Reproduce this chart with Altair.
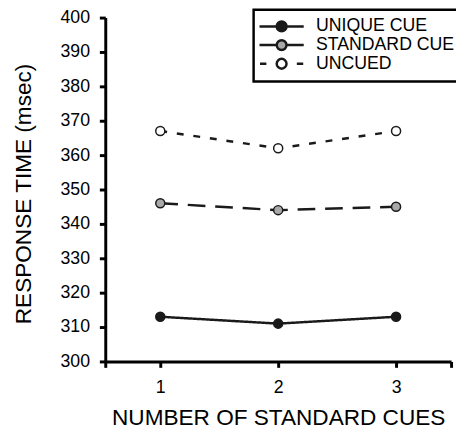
import altair as alt
import pandas as pd

# ---- data ----
cues = [1, 2, 3]
series = ["UNIQUE CUE", "STANDARD CUE", "UNCUED"]
unique_cue = [313, 311, 313]
standard_cue = [346, 344, 345]
uncued = [367, 362, 367]
y_ticks = [300, 310, 320, 330, 340, 350, 360, 370, 380, 390, 400]
x_ticks = [1, 2, 3]

rows = []
for name, vals in zip(series, [unique_cue, standard_cue, uncued]):
    for c, v in zip(cues, vals):
        rows.append({"cues": c, "rt": v, "series": name, "style": name})
df = pd.DataFrame(rows)

INK = "#1a1a1a"
fills = [INK, "#a9a9a9", "#ffffff"]
# order for the dash scale: UNCUED, STANDARD CUE, UNIQUE CUE
dash_domain = [series[2], series[1], series[0]]
dashes = [[7, 10], [18, 10], [1, 0]]
circle = ("M1,0C1,0.552,0.552,1,0,1C-0.552,1,-1,0.552,-1,0"
          "C-1,-0.552,-0.552,-1,0,-1C0.552,-1,1,-0.552,1,0Z")
solid_sym = "M-4.5,0L-1,0M1,0L4.5,0" + circle
dotted_sym = "M-4.4,0L-3.1,0M3.1,0L4.4,0" + circle

axis_style = dict(
    grid=False,
    domainColor="black",
    domainWidth=3,
    tickColor="black",
    tickWidth=3,
    tickSize=6,
    labelFont="Liberation Sans",
    labelFontSize=18,
    labelColor="black",
    titleFont="Liberation Sans",
    titleFontSize=23,
    titleFontWeight="normal",
    titleColor="black",
    titleBaseline="alphabetic",
)

x_lo, x_hi = 8 / 15, 52 / 15
x_enc = alt.X(
    "cues:Q",
    scale=alt.Scale(domain=[x_lo, x_hi], nice=False, zero=False),
    axis=alt.Axis(
        values=[x_lo] + x_ticks + [x_hi],
        labelExpr="datum.value % 1 === 0 ? format(datum.value, 'd') : ''",
        title="NUMBER OF STANDARD CUES",
        labelPadding=12,
        labelFlush=False,
        titleY=64,
        **axis_style,
    ),
)
y_enc = alt.Y(
    "rt:Q",
    scale=alt.Scale(domain=[300, 400], nice=False, zero=False),
    axis=alt.Axis(
        values=y_ticks,
        format="d",
        title="RESPONSE TIME (msec)",
        labelPadding=10,
        titleX=-76,
        titleY=179,
        **axis_style,
    ),
)

shape_expr = (
    "datum.value === 'UNCUED' ? '" + dotted_sym + "' : '" + solid_sym + "'"
)
legend = alt.Legend(
    orient="none",
    legendX=151,
    legendY=-8,
    padding=8,
    strokeColor="black",
    symbolType={"expr": shape_expr},
    symbolSize=100,
    symbolStrokeColor=INK,
    symbolStrokeWidth=2.5,
    symbolOpacity=1,
    symbolOffset=11.5,
    labelOffset=26,
    rowPadding=-2,
    labelFont="Liberation Sans",
    labelFontSize=18,
    labelColor="black",
)

lines = alt.Chart(df).mark_line(color=INK, strokeWidth=2.5).encode(
    x=x_enc,
    y=y_enc,
    strokeDash=alt.StrokeDash(
        "style:N", scale=alt.Scale(domain=dash_domain, range=dashes), legend=None
    ),
)

points = alt.Chart(df).mark_point(
    filled=True, stroke=INK, strokeWidth=1.5, size=85, opacity=1
).encode(
    x=x_enc,
    y=y_enc,
    fill=alt.Fill(
        "series:N",
        scale=alt.Scale(domain=series, range=fills),
        legend=legend,
        title="",
    ),
)

chart = (
    alt.layer(lines, points)
    .properties(
        width=352,
        height=350,
        autosize=alt.AutoSizeParams(type="none"),
        padding={"left": 99, "top": 6, "right": 5, "bottom": 65},
    )
    .configure_view(stroke=None)
    .configure_legend(strokeWidth=2.5)
)

chart.save("out.html", embed_options={"renderer": "svg", "actions": False})
